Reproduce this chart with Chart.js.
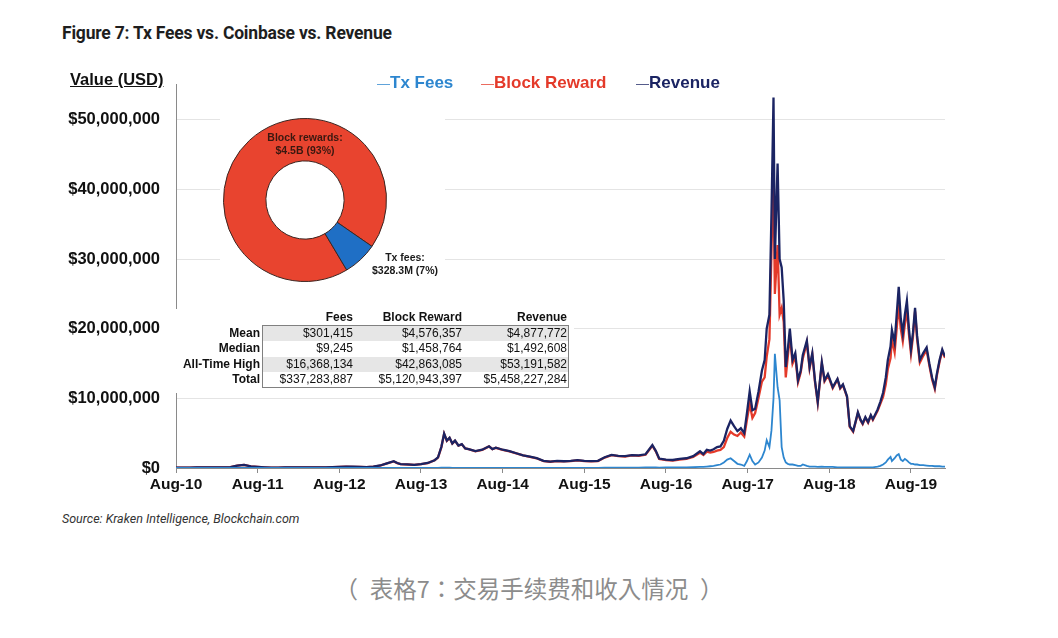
<!DOCTYPE html>
<html>
<head>
<meta charset="utf-8">
<script src="https://cdn.jsdelivr.net/npm/chart.js@4.4.0/dist/chart.umd.min.js"></script>
<style>
    body {
        margin: 0;
        width: 1058px;
        height: 638px;
        background: #fff;
        position: relative;
        overflow: hidden;
        font-family: 'Liberation Sans', Arial, sans-serif;
        color: #111;
    }
    .abs { position: absolute; white-space: nowrap; }
    #title { left: 62px; top: 23px; line-height: 20px; font: 700 17.5px Roboto, sans-serif; color: #1e1e1e; letter-spacing: -0.2px; }
    #yTitle { left: 70px; top: 69px; line-height: 20px; font-weight: 700; font-size: 16.5px; text-decoration: underline; }
    #chartBox { left: 40px; top: 59px; width: 915px; height: 441px; }
    .legend-item { top: 73px; line-height: 20px; font-weight: 700; font-size: 17px; }
    .legend-item .dash { font-weight: 400; font-size: 13px; opacity: 0.85; }
    #donutBox { left: 220px; top: 108px; width: 225px; height: 184px; background: #fff; }
    #donutChart { position: absolute; left: 3px; top: 10px; }
    .donut-label { font-weight: 700; font-size: 10.5px; line-height: 13px; text-align: center; }
    #statsBox { left: 170px; top: 309px; width: 404px; height: 84px; background: #fff; }
    #statsFrame { left: 262px; top: 325px; width: 305px; height: 61px; border: 1px solid #808080; }
    .cell { font-size: 12px; line-height: 15.5px; text-align: right; }
    #source { left: 62px; top: 511px; line-height: 18px; font: italic 400 12.5px Roboto, sans-serif; color: #333; }
    #caption { left: 0; width: 1058px; top: 572px; line-height: 32px; text-align: center;
        font-family: 'Noto Sans CJK TC', sans-serif; font-size: 23.5px; color: #8c8c8c; }
    #caption .p { display: inline-block; width: 1.5em; text-align: center; font-feature-settings: "halt"; }
</style>
</head>
<body>
<div id="title" class="abs">Figure 7: Tx Fees vs. Coinbase vs. Revenue</div>
<div id="chartBox" class="abs"><canvas id="mainChart" width="915" height="441"></canvas></div>
<div id="yTitle" class="abs">Value (USD)</div>
<div id="donutBox" class="abs"><canvas id="donutChart" width="164" height="164"></canvas></div>
<div id="statsBox" class="abs"></div>
<div id="source" class="abs">Source: Kraken Intelligence, Blockchain.com</div>
<div id="caption" class="abs"><span class="p">（</span>表格7：交易手续费和收入情况<span class="p">）</span></div>

<script>
// Months since Aug 2010; values in millions of USD per day
const months = [
    0, 1, 2, 3, 4, 5, 6, 7, 8, 9, 10, 11, 12, 13, 14, 15, 16, 17, 18, 19, 20, 21, 22, 23,
    24, 25, 26, 27, 28, 29, 30, 31, 32, 32.5, 33, 34, 35, 36, 37, 38, 38.5, 39, 39.4, 39.8,
    40.2, 40.6, 41, 41.5, 42, 42.5, 43, 44, 45, 46, 46.5, 47, 48, 49, 50, 51, 52, 53, 54, 55,
    56, 57, 58, 59, 60, 61, 62, 63, 64, 65, 66, 67, 68, 69, 70, 70.5, 71,
    72, 73, 74, 75, 76, 77, 77.5, 78, 78.5, 79, 79.5, 80, 80.5, 81, 81.5, 82, 82.5, 83, 83.5,
    83.9, 84.3, 84.7, 85.1, 85.6, 86.1, 86.5, 86.8, 87.2, 87.5, 87.8, 88.0, 88.4, 88.7, 89.0,
    89.3, 89.6, 89.9, 90.2, 90.6, 91.0, 91.4, 91.8, 92.1, 92.7, 93.1, 93.5, 93.9, 94.3, 94.9,
    95.3, 95.8, 96.5, 97.2, 97.6, 98.0, 98.6, 99.0, 99.5, 99.9, 100.2, 100.6, 100.9, 101.3,
    101.7, 102.1, 102.4, 103.1, 103.5, 103.9, 104.3, 104.6, 105.0, 105.2, 105.6, 105.9, 106.2,
    106.5, 106.8, 107.1, 107.4, 107.7, 108.0, 108.3, 108.6, 108.9, 109.3, 109.8, 110.3, 110.7,
    111.1, 111.5, 111.8, 112.2, 112.6, 113.0,
];

const txFees = [
    0, 0, 0, 0, 0, 0, 0, 0, 0, 0, 0.01, 0, 0, 0, 0, 0, 0, 0, 0, 0, 0, 0, 0, 0,
    0.01, 0.01, 0.01, 0.01, 0.01, 0.01, 0.01, 0.02, 0.02, 0.02, 0.02, 0.01, 0.01, 0.01, 0.02, 0.02, 0.02, 0.04, 0.05, 0.04,
    0.04, 0.03, 0.03, 0.03, 0.03, 0.02, 0.02, 0.02, 0.02, 0.02, 0.02, 0.02, 0.02, 0.02, 0.02, 0.02, 0.02, 0.02, 0.02, 0.02,
    0.02, 0.02, 0.02, 0.03, 0.03, 0.03, 0.03, 0.04, 0.04, 0.05, 0.05, 0.06, 0.06, 0.07, 0.08, 0.07, 0.06,
    0.07, 0.07, 0.08, 0.1, 0.12, 0.15, 0.15, 0.2, 0.25, 0.3, 0.4, 0.5, 0.8, 1.2, 1.4, 1.0, 0.6, 0.5, 0.3,
    1.0, 1.9, 1.0, 0.5, 0.8, 1.5, 2.5, 4.0, 3.0, 5.4, 10.0, 16.4, 11.6, 9.7, 3.0,
    1.5, 0.8, 0.6, 0.5, 0.5, 0.4, 0.3, 0.3, 0.5, 0.3, 0.2, 0.2, 0.2, 0.15, 0.2,
    0.15, 0.15, 0.15, 0.1, 0.1, 0.1, 0.1, 0.1, 0.1, 0.1, 0.1, 0.1, 0.1, 0.1,
    0.1, 0.1, 0.1, 0.2, 0.3, 0.5, 0.8, 1.2, 1.6, 1.0, 1.4, 1.8, 2.0,
    1.2, 1.0, 1.3, 1.1, 0.8, 0.6, 0.6, 0.5, 0.5, 0.4, 0.4, 0.35, 0.3,
    0.3, 0.25, 0.25, 0.25, 0.2, 0.2,
];

const blockReward = [
    0.04, 0.05, 0.06, 0.09, 0.08, 0.07, 0.09, 0.08, 0.12, 0.35, 0.45, 0.22, 0.15, 0.1, 0.05, 0.05, 0.07, 0.1, 0.08, 0.08, 0.08, 0.08, 0.1, 0.14,
    0.15, 0.18, 0.17, 0.16, 0.12, 0.2, 0.35, 0.65, 0.95, 0.7, 0.55, 0.5, 0.45, 0.55, 0.7, 1.1, 1.5, 3.0, 4.9, 3.9,
    4.3, 3.5, 3.9, 3.2, 3.4, 2.8, 2.7, 2.4, 2.6, 3.1, 2.7, 2.9, 2.6, 2.4, 2.1, 1.8, 1.6, 1.4, 1.0, 0.9,
    1.0, 0.95, 1.0, 1.1, 1.0, 0.95, 1.0, 1.5, 1.85, 1.7, 1.65, 1.8, 1.75, 1.9, 3.2, 2.4, 1.3,
    1.13, 1.08, 1.22, 1.3, 1.58, 2.2, 1.85, 2.35, 2.2, 2.3, 2.5, 2.6, 3.0, 4.3, 5.2, 4.8, 4.6, 5.1, 4.5,
    6.9, 9.2, 7.2, 7.9, 10.1, 12.4, 13.0, 16.0, 18.5, 31.0, 42.9, 25.0, 32.0, 22.0, 23.0,
    21.0, 13.0, 16.0, 19.0, 15.0, 16.0, 12.3, 13.7, 15.7, 18.0, 14.3, 16.3, 12.3, 9.35, 15.0,
    12.45, 13.3, 11.45, 12.7, 11.4, 11.9, 10.2, 5.9, 5.2, 6.7, 7.9, 6.8, 6.3, 7.2,
    6.5, 7.5, 6.9, 8.2, 9.2, 10.2, 12.0, 14.2, 15.8, 18.5, 16.6, 20.0, 23.5,
    20.0, 18.2, 20.6, 22.8, 19.2, 16.4, 18.9, 22.5, 18.5, 15.1, 16.1, 16.95, 14.7,
    12.7, 11.35, 13.25, 15.25, 16.8, 15.8,
];

const revenue = [
    0.04, 0.05, 0.06, 0.09, 0.08, 0.07, 0.09, 0.08, 0.12, 0.35, 0.46, 0.22, 0.15, 0.1, 0.05, 0.05, 0.07, 0.1, 0.08, 0.08, 0.08, 0.08, 0.1, 0.14,
    0.16, 0.19, 0.18, 0.17, 0.13, 0.21, 0.36, 0.67, 0.97, 0.72, 0.57, 0.51, 0.46, 0.56, 0.72, 1.12, 1.52, 3.04, 4.95, 3.94,
    4.34, 3.53, 3.93, 3.23, 3.43, 2.82, 2.72, 2.42, 2.62, 3.12, 2.72, 2.92, 2.62, 2.42, 2.12, 1.82, 1.62, 1.42, 1.02, 0.92,
    1.02, 0.97, 1.02, 1.13, 1.03, 0.98, 1.03, 1.54, 1.89, 1.75, 1.7, 1.86, 1.81, 1.97, 3.28, 2.47, 1.36,
    1.2, 1.15, 1.3, 1.4, 1.7, 2.4, 2.0, 2.6, 2.5, 2.7, 3.0, 3.1, 3.9, 5.6, 6.8, 6.0, 5.3, 5.7, 5.0,
    7.9, 11.0, 8.3, 8.5, 11.0, 14.0, 15.5, 20.0, 22.0, 36.5, 53.2, 30.0, 43.7, 30.0, 28.8,
    24.0, 14.5, 17.0, 20.0, 15.5, 16.5, 12.6, 14.0, 16.2, 18.3, 14.5, 16.5, 12.5, 9.5, 15.2,
    12.6, 13.5, 11.6, 12.8, 11.5, 12.0, 10.3, 6.0, 5.3, 6.8, 8.0, 6.9, 6.4, 7.3,
    6.6, 7.6, 7.0, 8.4, 9.5, 10.8, 13.0, 15.5, 17.5, 19.8, 18.0, 22.0, 26.0,
    21.5, 19.3, 22.0, 24.0, 20.0, 17.0, 19.5, 23.0, 19.0, 15.5, 16.5, 17.3, 15.0,
    13.0, 11.6, 13.5, 15.5, 17.0, 16.0,
];

const xTickLabels = ['Aug-10', 'Aug-11', 'Aug-12', 'Aug-13', 'Aug-14', 'Aug-15', 'Aug-16', 'Aug-17', 'Aug-18', 'Aug-19'];
const seriesNames = ['Tx Fees', 'Block Reward', 'Revenue'];
const seriesColors = ['#2d86cf', '#e43a2a', '#1b2463'];

const donutNames = ['Block rewards:', 'Tx fees:'];
const donutValues = [4500, 328.3];
const donutValueText = ['$4.5B (93%)', '$328.3M (7%)'];

const statCols = ['Fees', 'Block Reward', 'Revenue'];
const statRows = ['Mean', 'Median', 'All-Time High', 'Total'];
const statFees = ['$301,415', '$9,245', '$16,368,134', '$337,283,887'];
const statReward = ['$4,576,357', '$1,458,764', '$42,863,085', '$5,120,943,397'];
const statRevenue = ['$4,877,772', '$1,492,608', '$53,191,582', '$5,458,227,284'];

const toPoints = (values) => months.map((m, i) => ({ x: m, y: values[i] }));

// Main line chart
const series = [txFees, blockReward, revenue];
const drawOrder = [0, 2, 1]; // fees on top, revenue over block reward
const lineWidths = [1.8, 2.3, 2.3];

new Chart(document.getElementById('mainChart').getContext('2d'), {
    type: 'line',
    data: {
        datasets: series.map((values, i) => ({
            label: seriesNames[i],
            data: toPoints(values),
            borderColor: seriesColors[i],
            borderWidth: lineWidths[i],
            pointRadius: 0,
            tension: 0,
            fill: false,
            order: drawOrder[i],
        })),
    },
    options: {
        responsive: false,
        animation: false,
        devicePixelRatio: 1,
        layout: { padding: { top: 10, right: 10, left: 0, bottom: 0 } },
        plugins: {
            legend: { display: false },
            tooltip: { enabled: false },
        },
        scales: {
            x: {
                type: 'linear',
                min: 0,
                max: 113,
                afterFit: (scale) => { scale.height = 32; },
                border: { display: true, color: '#8a8a8a', width: 1 },
                grid: { drawOnChartArea: false, drawTicks: true, tickLength: 5, color: '#8a8a8a' },
                ticks: {
                    stepSize: 12,
                    includeBounds: false,
                    autoSkip: false,
                    maxRotation: 0,
                    padding: 2,
                    color: '#111',
                    font: { family: "'Liberation Sans', Arial, sans-serif", size: 15.5, weight: 'bold' },
                    callback: (v) => xTickLabels[v / 12] || '',
                },
            },
            y: {
                min: 0,
                max: 55,
                afterFit: (scale) => { scale.width = 136; },
                border: { display: true, color: '#8a8a8a', width: 1 },
                grid: { color: '#e4e4e4', drawTicks: false },
                ticks: {
                    stepSize: 10,
                    includeBounds: false,
                    padding: 16,
                    color: '#111',
                    font: { family: "'Liberation Sans', Arial, sans-serif", size: 16.5, weight: 'bold' },
                    callback: (v) => '$' + (v * 1e6).toLocaleString('en-US'),
                },
            },
        },
    },
});

// Legend
const legendLeft = [377, 481, 636];
seriesNames.forEach((name, i) => {
    const el = document.createElement('div');
    el.className = 'abs legend-item';
    el.style.left = legendLeft[i] + 'px';
    el.style.color = seriesColors[i];
    el.innerHTML = '<span class="dash">—</span>' + name;
    document.body.appendChild(el);
});

// Donut inset
new Chart(document.getElementById('donutChart').getContext('2d'), {
    type: 'doughnut',
    data: {
        labels: donutNames,
        datasets: [{
            data: donutValues,
            backgroundColor: ['#e8442f', '#1f6fc5'],
            borderColor: '#3b2622',
            borderWidth: 1,
        }],
    },
    options: {
        responsive: false,
        animation: false,
        devicePixelRatio: 1,
        rotation: 149.2,
        cutout: '48%',
        plugins: {
            legend: { display: false },
            tooltip: { enabled: false },
        },
    },
});

const donutLabelPos = [[305, 131, '#3a1810'], [405, 251, '#1a1a1a']];
donutNames.forEach((name, i) => {
    const el = document.createElement('div');
    el.className = 'abs donut-label';
    el.style.left = (donutLabelPos[i][0] - 50) + 'px';
    el.style.width = '100px';
    el.style.top = donutLabelPos[i][1] + 'px';
    el.style.color = donutLabelPos[i][2];
    el.innerHTML = name + '<br>' + donutValueText[i];
    document.body.appendChild(el);
});

// Stats table
const frame = document.createElement('div');
frame.id = 'statsFrame';
frame.className = 'abs';
document.body.appendChild(frame);

const colRight = [353, 462, 567];
const rowTop = 325.5;
const rowH = 15.5;

function addCell(text, right, top, bold) {
    const el = document.createElement('div');
    el.className = 'abs cell';
    el.style.left = (right - 140) + 'px';
    el.style.width = '140px';
    el.style.top = top + 'px';
    if (bold) el.style.fontWeight = '700';
    el.textContent = text;
    document.body.appendChild(el);
}

statRows.forEach((row, r) => {
    if (r % 2 === 0) {
        const band = document.createElement('div');
        band.className = 'abs';
        band.style.cssText = `left:263px;top:${rowTop + r * rowH}px;width:305px;height:${rowH}px;background:#e6e6e6;`;
        document.body.insertBefore(band, frame);
    }
});

statCols.forEach((col, c) => addCell(col, colRight[c], rowTop - rowH, true));
const statValues = [statFees, statReward, statRevenue];
statRows.forEach((row, r) => {
    const top = rowTop + r * rowH;
    addCell(row, 260, top, true);
    statValues.forEach((vals, c) => addCell(vals[r], colRight[c], top, false));
});
</script>
</body>
</html>
